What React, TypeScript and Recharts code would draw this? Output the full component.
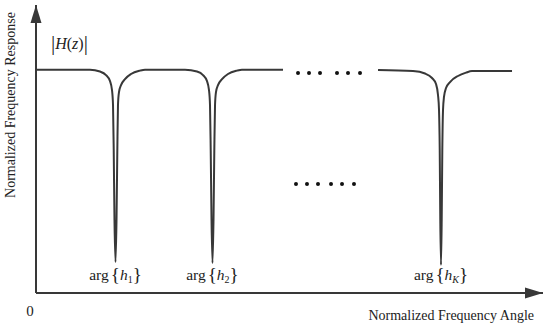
import { ComposedChart, Line, XAxis, YAxis, ReferenceLine, ReferenceDot } from "recharts";

const SERIF = '"Liberation Serif", "Times New Roman", serif';
const INK = "#383838";

// normalized frequency angle (0..1 along the axis) and |H|
// first piece: flat, null at h1, null at h2, flat
const angleA = [
  0, 0.1065, 0.1262, 0.1381, 0.146, 0.1499, 0.1519, 0.1533, 0.1548, 0.1568, 0.1588, 0.1604, 0.1617,
  0.1637, 0.1677, 0.1755, 0.1874, 0.2051, 0.215, 0.2939, 0.3176, 0.3294, 0.3373, 0.3412, 0.3432,
  0.3446, 0.3462, 0.3481, 0.3501, 0.3517, 0.3531, 0.355, 0.359, 0.3669, 0.3787, 0.3964, 0.4063, 0.4872,
];
const magA = [
  1.0, 1.0, 0.992, 0.976, 0.949, 0.909, 0.842, 0.64, 0.327, 0.139, 0.327, 0.64, 0.842,
  0.9, 0.931, 0.958, 0.981, 0.996, 1.0, 1.0, 0.992, 0.976, 0.949, 0.909, 0.842,
  0.64, 0.327, 0.134, 0.327, 0.64, 0.842, 0.9, 0.931, 0.958, 0.981, 0.996, 1.0, 1.0,
];
// second piece: flat, null at hK, flat
const angleB = [
  0.6746, 0.7436, 0.7673, 0.7811, 0.789, 0.7929, 0.7949, 0.7963, 0.7974, 0.7988, 0.8002, 0.8014,
  0.8028, 0.8047, 0.8087, 0.8166, 0.8323, 0.8481, 0.86, 0.9389,
];
const magB = [
  0.999, 0.994, 0.983, 0.963, 0.936, 0.887, 0.82, 0.64, 0.327, 0.125, 0.327, 0.64,
  0.82, 0.878, 0.918, 0.945, 0.972, 0.987, 0.994, 0.994,
];

// the "......" marks
const dotsTopAngle = [0.5168, 0.5385, 0.5602, 0.5937, 0.6154, 0.6391];
const dotsTopMag = 0.985;
const dotsMidAngle = [0.5128, 0.5345, 0.5562, 0.5819, 0.6036, 0.6272];
const dotsMidMag = 0.488;

const nullAngles = [0.1568, 0.3481, 0.7988];
const nullSubs = ["1", "2", "K"];

const Y_MAX = 1.29;

const segA = angleA.map((t, i) => ({ t, v: magA[i] }));
const segB = angleB.map((t, i) => ({ t, v: magB[i] }));
const dotsTop = dotsTopAngle.map((t) => ({ t, v: dotsTopMag }));
const dotsMid = dotsMidAngle.map((t) => ({ t, v: dotsMidMag }));

const ArgLabel = (sub: string) => (p: any) => (
  <text x={p.cx} y={p.cy - 13} textAnchor="middle" fontFamily={SERIF} fontSize={15.5} fill="#222">
    <tspan>arg</tspan>
    <tspan fontSize={19} dx={2} dy={1}>{"{"}</tspan>
    <tspan fontStyle="italic" dy={-1}>h</tspan>
    <tspan fontSize={10} dy={3} fontStyle={/\d/.test(sub) ? "normal" : "italic"}>{sub}</tspan>
    <tspan fontSize={19} dy={-2}>{"}"}</tspan>
  </text>
);

export default function App() {
  return (
    <div style={{ position: "absolute", left: 0, top: 0 }}>
      <ComposedChart width={550} height={328} margin={{ top: 5, right: 7, bottom: 35, left: 36 }}>
        <XAxis type="number" dataKey="t" domain={[0, 1]} hide />
        <YAxis type="number" domain={[0, Y_MAX]} hide />
        <ReferenceLine y={0} stroke={INK} strokeWidth={2} />
        <ReferenceLine x={0} stroke={INK} strokeWidth={2} />
        <ReferenceDot
          x={1}
          y={0}
          shape={(p: any) => (
            <path d={`M${p.cx},${p.cy} L${p.cx - 18},${p.cy - 5.5} L${p.cx - 18},${p.cy + 5.5} Z`} fill={INK} />
          )}
        />
        <ReferenceDot
          x={0}
          y={Y_MAX}
          shape={(p: any) => (
            <path d={`M${p.cx},${p.cy} L${p.cx - 5.5},${p.cy + 18} L${p.cx + 5.5},${p.cy + 18} Z`} fill={INK} />
          )}
        />
        <Line data={segA} dataKey="v" type="monotone" stroke={INK} strokeWidth={2} dot={false} isAnimationActive={false} />
        <Line data={segB} dataKey="v" type="monotone" stroke={INK} strokeWidth={2} dot={false} isAnimationActive={false} />
        <Line data={dotsTop} dataKey="v" stroke="none" dot={{ r: 2, fill: "#111", stroke: "none" }} isAnimationActive={false} />
        <Line data={dotsMid} dataKey="v" stroke="none" dot={{ r: 2, fill: "#111", stroke: "none" }} isAnimationActive={false} />
        {nullAngles.map((t, i) => (
          <ReferenceDot key={t} x={t} y={0} shape={ArgLabel(nullSubs[i])} />
        ))}
        <ReferenceDot
          x={0}
          y={0}
          shape={(p: any) => (
            <text x={p.cx - 6} y={p.cy + 23} textAnchor="middle" fontFamily={SERIF} fontSize={15} fill="#222">0</text>
          )}
        />
        <ReferenceDot
          x={1}
          y={0}
          shape={(p: any) => (
            <text x={p.cx - 9} y={p.cy + 27} textAnchor="end" fontFamily={SERIF} fontSize={14} fill="#222">
              Normalized Frequency Angle
            </text>
          )}
        />
        <ReferenceDot
          x={0}
          y={0.842}
          shape={(p: any) => (
            <text
              x={p.cx - 21}
              y={p.cy}
              transform={`rotate(-90 ${p.cx - 21} ${p.cy})`}
              textAnchor="middle"
              fontFamily={SERIF}
              fontSize={14}
              fill="#222"
            >
              Normalized Frequency Response
            </text>
          )}
        />
        <ReferenceDot
          x={0}
          y={1.117}
          shape={(p: any) => (
            <text x={p.cx + 15} y={p.cy + 5} fontFamily={SERIF} fontSize={16} fill="#222">
              <tspan fontSize={21} dy={1}>|</tspan>
              <tspan fontStyle="italic" dy={-1}>H</tspan>
              <tspan>(</tspan>
              <tspan fontStyle="italic">z</tspan>
              <tspan>)</tspan>
              <tspan fontSize={21} dy={1}>|</tspan>
            </text>
          )}
        />
      </ComposedChart>
    </div>
  );
}
